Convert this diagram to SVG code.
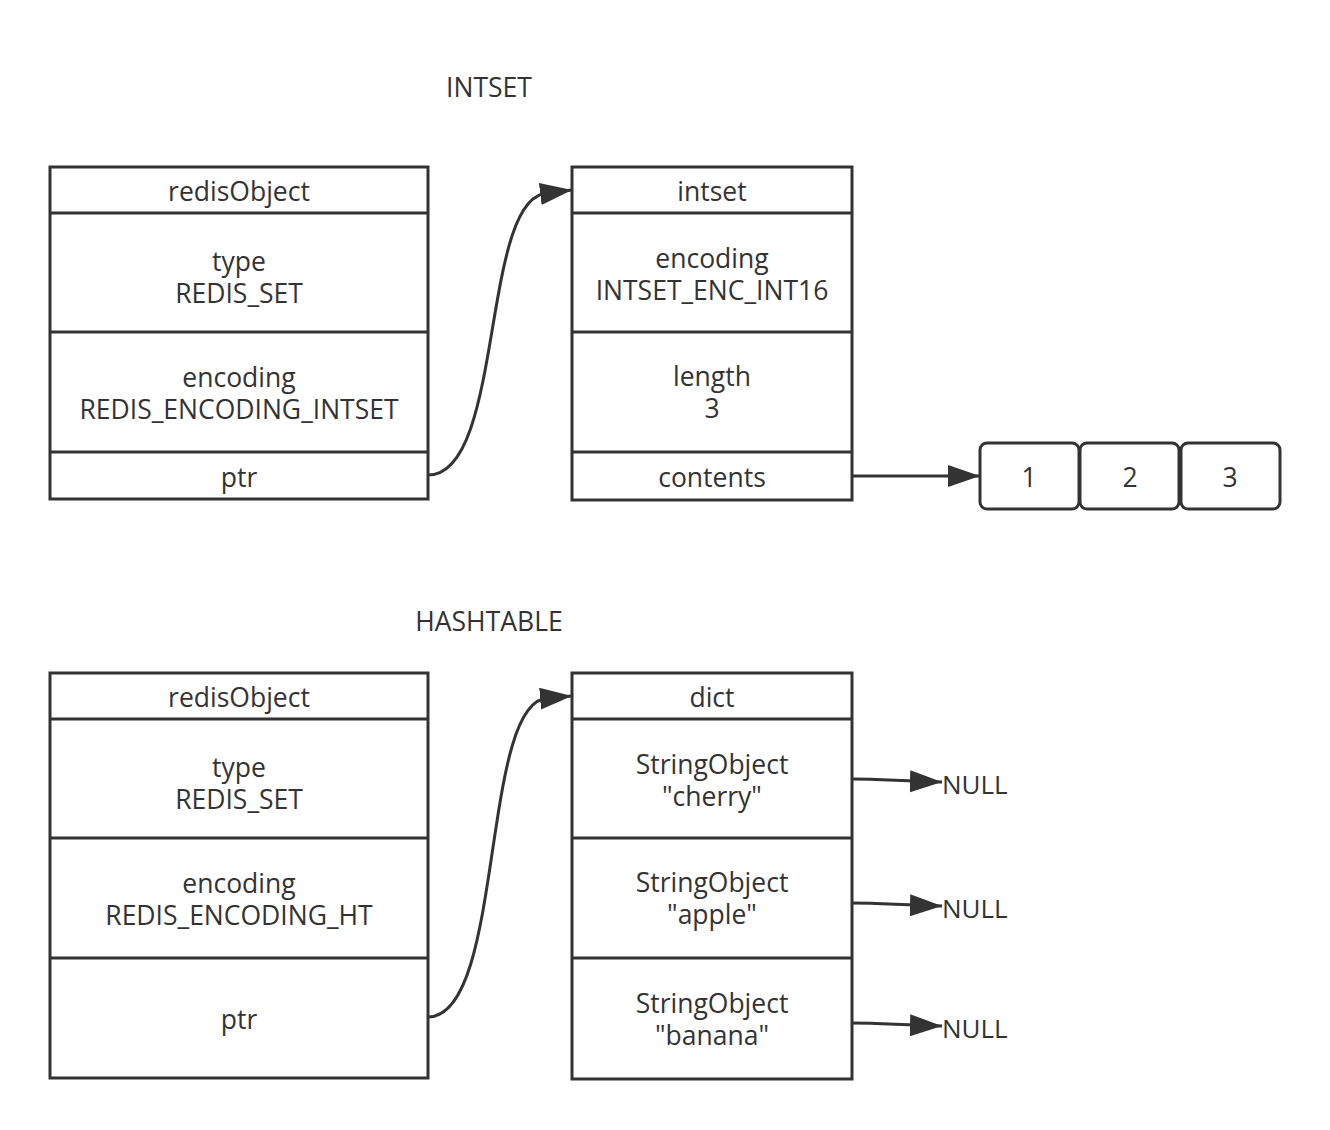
<svg xmlns="http://www.w3.org/2000/svg" width="1330" height="1130" viewBox="0 0 1330 1130">
<style>
.box{fill:#fff;stroke:#333;stroke-width:3}
.div{stroke:#333;stroke-width:3}
.t{font-family:"Open Sans","Noto Sans","Liberation Sans",sans-serif;font-size:26.5px;fill:#333;text-anchor:middle}
.tl{font-family:"Open Sans","Noto Sans","Liberation Sans",sans-serif;font-size:26px;fill:#333}
.c{fill:none;stroke:#333;stroke-width:3}
</style>
<defs>
<marker id="ah" markerWidth="34" markerHeight="24" refX="32" refY="11" orient="auto" markerUnits="userSpaceOnUse">
<path d="M0,0 L32,11 L0,22 Z" fill="#333"/>
</marker>
</defs>
<rect width="1330" height="1130" fill="#fff"/>
<text class="t" x="489" y="97">INTSET</text>
<text class="t" x="489" y="631">HASHTABLE</text>

<g id="robj1">
<rect class="box" x="50" y="167" width="378" height="332"/>
<line class="div" x1="50" y1="213" x2="428" y2="213"/>
<line class="div" x1="50" y1="332" x2="428" y2="332"/>
<line class="div" x1="50" y1="452" x2="428" y2="452"/>
<text class="t" x="239" y="201">redisObject</text>
<text class="t" x="239" y="271">type</text>
<text class="t" x="239" y="303">REDIS_SET</text>
<text class="t" x="239" y="387">encoding</text>
<text class="t" x="239" y="419">REDIS_ENCODING_INTSET</text>
<text class="t" x="239" y="487">ptr</text>
</g>

<g id="intset">
<rect class="box" x="572" y="167" width="280" height="333"/>
<line class="div" x1="572" y1="213" x2="852" y2="213"/>
<line class="div" x1="572" y1="332" x2="852" y2="332"/>
<line class="div" x1="572" y1="452" x2="852" y2="452"/>
<text class="t" x="712" y="201">intset</text>
<text class="t" x="712" y="268">encoding</text>
<text class="t" x="712" y="300">INTSET_ENC_INT16</text>
<text class="t" x="712" y="386">length</text>
<text class="t" x="712" y="418">3</text>
<text class="t" x="712" y="487">contents</text>
</g>

<g id="arr1">
<rect class="box" x="980" y="443" width="99" height="66" rx="7"/>
<text class="t" x="1029" y="487">1</text>
</g>
<g id="arr2">
<rect class="box" x="1080" y="443" width="99" height="66" rx="7"/>
<text class="t" x="1130" y="487">2</text>
</g>
<g id="arr3">
<rect class="box" x="1181" y="443" width="99" height="66" rx="7"/>
<text class="t" x="1230" y="487">3</text>
</g>

<g id="robj2">
<rect class="box" x="50" y="673" width="378" height="405"/>
<line class="div" x1="50" y1="719" x2="428" y2="719"/>
<line class="div" x1="50" y1="838" x2="428" y2="838"/>
<line class="div" x1="50" y1="958" x2="428" y2="958"/>
<text class="t" x="239" y="707">redisObject</text>
<text class="t" x="239" y="777">type</text>
<text class="t" x="239" y="809">REDIS_SET</text>
<text class="t" x="239" y="893">encoding</text>
<text class="t" x="239" y="925">REDIS_ENCODING_HT</text>
<text class="t" x="239" y="1029">ptr</text>
</g>

<g id="dict">
<rect class="box" x="572" y="673" width="280" height="406"/>
<line class="div" x1="572" y1="719" x2="852" y2="719"/>
<line class="div" x1="572" y1="838" x2="852" y2="838"/>
<line class="div" x1="572" y1="958" x2="852" y2="958"/>
<text class="t" x="712" y="707">dict</text>
<text class="t" x="712" y="774">StringObject</text>
<text class="t" x="712" y="806">"cherry"</text>
<text class="t" x="712" y="892">StringObject</text>
<text class="t" x="712" y="924">"apple"</text>
<text class="t" x="712" y="1013">StringObject</text>
<text class="t" x="712" y="1045">"banana"</text>
</g>

<g id="null1"><text class="tl" x="942" y="794">NULL</text></g>
<g id="null2"><text class="tl" x="942" y="918">NULL</text></g>
<g id="null3"><text class="tl" x="942" y="1038">NULL</text></g>

<g id="connectors">
<path class="c" marker-end="url(#ah)" d="M428,475 C505,475 480,195 548,193 L572,190"/>
<path class="c" marker-end="url(#ah)" d="M852,476 L980,476"/>
<path class="c" marker-end="url(#ah)" d="M428,1017 C505,1017 480,700 548,698 L572,696"/>
<path class="c" marker-end="url(#ah)" d="M852,779 C880,779 900,781 942,782"/>
<path class="c" marker-end="url(#ah)" d="M852,903 C880,903 900,905 942,906"/>
<path class="c" marker-end="url(#ah)" d="M852,1023 C880,1023 900,1025 942,1026"/>
</g>
</svg>
